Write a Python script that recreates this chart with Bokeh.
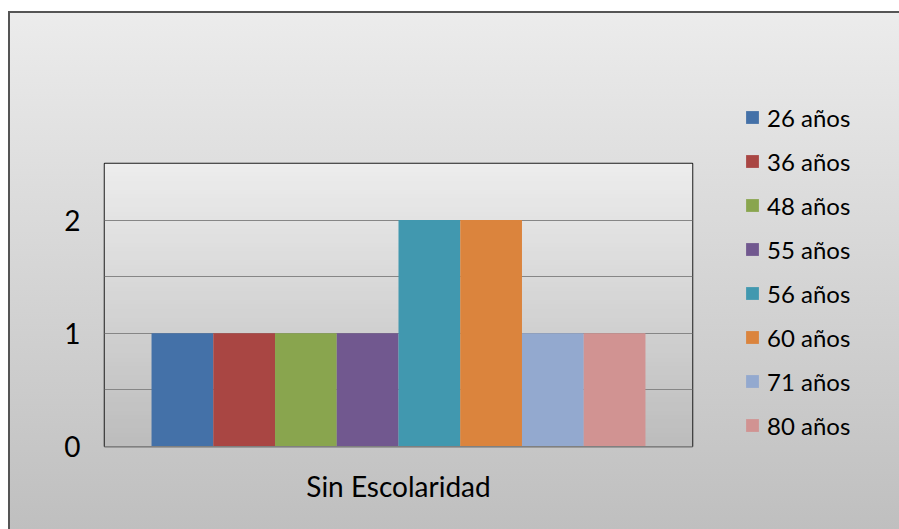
import numpy as np
from bokeh.plotting import figure
from bokeh.models import FactorRange, Range1d, FixedTicker, Legend, LegendItem
from bokeh.transform import dodge
from bokeh.embed import file_html
from bokeh.resources import INLINE

categories = ["Sin Escolaridad"]
series = ["26 años", "36 años", "48 años", "55 años", "56 años", "60 años", "71 años", "80 años"]
values = [1, 1, 1, 1, 2, 2, 1, 1]
colors = ["#4471A8", "#A94643", "#89A54E", "#71588F", "#4198AF", "#DB843D", "#93A9CF", "#D19392"]
y_ticks = [0, 1, 2]
y_minor = [0.5, 1.5, 2.5]

FONT = "Lato"

p = figure(frame_width=588, frame_height=283, x_range=FactorRange(factors=categories, range_padding=0),
           y_range=Range1d(0, 2.5), output_backend="svg", toolbar_location=None,
           min_border_left=96, min_border_right=0, min_border_top=152, min_border_bottom=83)
p.styles = {"margin-top": "11px", "margin-left": "8px",
            "max-width": "891px", "max-height": "518px", "overflow": "hidden",
            "background": "linear-gradient(to bottom, #ececec 0%, #bfbfbf 100%)",
            "box-shadow": "inset 2px 2px 0 #555"}
p.border_fill_color = None
p.background_fill_color = None
p.outline_line_color = "#1a1a1a"
p.outline_line_width = 1.5

# plot area gradient (decoration)
N = 64
g = np.linspace(189, 237, N).astype(np.uint32)
img = ((255 << 24) | (g << 16) | (g << 8) | g).astype(np.uint32).reshape(N, 1)
p.image_rgba(image=[img], x=0, y=0, dw=1, dh=2.5, level="image")

bw = 0.105
items = []
for i, (s, v, c) in enumerate(zip(series, values, colors)):
    off = (i - (len(series) - 1) / 2) * bw
    r = p.vbar(x=dodge("cat", off, range=p.x_range), top="val", width=bw,
               source={"cat": categories, "val": [v]}, fill_color=c, line_color=None)
    items.append(LegendItem(label=s, renderers=[r]))

legend = Legend(items=items, location=(52, -1), background_fill_alpha=0, border_line_color=None,
                padding=0, margin=0, spacing=0, label_height=44, glyph_height=16, glyph_width=16,
                label_standoff=7, label_text_font_size="24px", label_text_font=FONT,
                label_text_color="#000000")
p.add_layout(legend, "right")

p.yaxis.ticker = FixedTicker(ticks=y_ticks, minor_ticks=y_minor)
p.yaxis.axis_line_color = None
p.yaxis.major_tick_line_color = None
p.yaxis.minor_tick_line_color = None
p.yaxis.major_label_standoff = 18
p.yaxis.major_label_text_font = FONT
p.yaxis.major_label_text_font_size = "28px"
p.yaxis.major_label_text_color = "#000000"

p.xaxis.axis_line_color = "#808080"
p.xaxis.major_tick_line_color = None
p.xaxis.major_label_standoff = 16
p.xaxis.major_label_text_font = FONT
p.xaxis.major_label_text_font_size = "28px"
p.xaxis.major_label_text_color = "#000000"

p.xgrid.grid_line_color = None
p.ygrid.grid_line_color = "#868686"
p.ygrid.minor_grid_line_color = "#868686"

open("out.html", "w").write(file_html(p, INLINE))
